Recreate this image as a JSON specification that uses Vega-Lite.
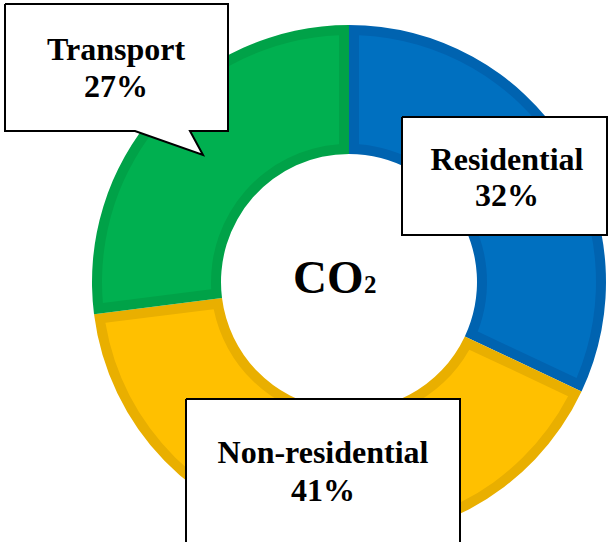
{
  "$schema": "https://vega.github.io/schema/vega-lite/v6.json",
  "width": 609,
  "height": 542,
  "autosize": {"type": "none"},
  "padding": 0,
  "background": "white",
  "config": {"view": {"stroke": null}},
  "datasets": {
    "shares": [
      {"cat": "Residential", "value": 32, "ord": 1, "pct": "32%", "lx": 158, "ly1": 112, "ly2": 76},
      {"cat": "Non-residential", "value": 41, "ord": 2, "pct": "41%", "lx": -26, "ly1": -181, "ly2": -219},
      {"cat": "Transport", "value": 27, "ord": 3, "pct": "27%", "lx": -233, "ly1": 222, "ly2": 185}
    ],
    "boxes": [
      {"box": "Transport", "i": 1, "x": -344, "y": 278},
      {"box": "Transport", "i": 2, "x": -121, "y": 278},
      {"box": "Transport", "i": 3, "x": -121, "y": 151},
      {"box": "Transport", "i": 4, "x": -159, "y": 151},
      {"box": "Transport", "i": 5, "x": -146, "y": 127},
      {"box": "Transport", "i": 6, "x": -214, "y": 151},
      {"box": "Transport", "i": 7, "x": -344, "y": 151},
      {"box": "Transport", "i": 8, "x": -344, "y": 278},
      {"box": "Residential", "i": 1, "x": 53, "y": 165},
      {"box": "Residential", "i": 2, "x": 258, "y": 165},
      {"box": "Residential", "i": 3, "x": 258, "y": 47},
      {"box": "Residential", "i": 4, "x": 53, "y": 47},
      {"box": "Residential", "i": 5, "x": 53, "y": 165},
      {"box": "Non-residential", "i": 1, "x": -163, "y": -117},
      {"box": "Non-residential", "i": 2, "x": 111, "y": -117},
      {"box": "Non-residential", "i": 3, "x": 111, "y": -265},
      {"box": "Non-residential", "i": 4, "x": -163, "y": -265},
      {"box": "Non-residential", "i": 5, "x": -163, "y": -117}
    ],
    "center": [
      {"t": "CO", "x": -56, "y": -11, "size": "big"},
      {"t": "2", "x": 15, "y": -11, "size": "small"}
    ]
  },
  "layer": [
    {
      "data": {"name": "shares"},
      "mark": {"type": "arc", "innerRadius": 128, "outerRadius": 257},
      "encoding": {
        "theta": {"field": "value", "type": "quantitative", "stack": true},
        "order": {"field": "ord", "type": "quantitative"},
        "color": {"field": "cat", "type": "nominal", "legend": null,
          "scale": {"domain": ["Residential", "Non-residential", "Transport"], "range": ["#0063B0", "#E9AF00", "#00A248"]}},
        "x": {"datum": 0, "type": "quantitative", "axis": null, "scale": {"domain": [-349, 260], "nice": false, "zero": false}},
        "y": {"datum": 0, "type": "quantitative", "axis": null, "scale": {"domain": [-260, 282], "nice": false, "zero": false}}
      }
    },
    {
      "data": {"name": "shares"},
      "mark": {"type": "arc", "innerRadius": 138, "outerRadius": 247, "padAngle": 0.0707},
      "encoding": {
        "theta": {"field": "value", "type": "quantitative", "stack": true},
        "order": {"field": "ord", "type": "quantitative"},
        "fill": {"field": "cat", "type": "nominal", "legend": null,
          "scale": {"domain": ["Residential", "Non-residential", "Transport"], "range": ["#0070C0", "#FFC000", "#00B050"]}},
        "x": {"datum": 0, "type": "quantitative"},
        "y": {"datum": 0, "type": "quantitative"}
      }
    },
    {
      "data": {"name": "boxes"},
      "mark": {"type": "line", "fill": "white", "stroke": "black", "strokeWidth": 2, "strokeJoin": "miter"},
      "encoding": {
        "x": {"field": "x", "type": "quantitative"},
        "y": {"field": "y", "type": "quantitative"},
        "detail": {"field": "box"},
        "order": {"field": "i", "type": "quantitative"}
      }
    },
    {
      "data": {"name": "shares"},
      "mark": {"type": "text", "font": "Liberation Serif", "fontWeight": "bold", "fontSize": 32, "baseline": "alphabetic", "align": "center", "color": "black"},
      "encoding": {
        "x": {"field": "lx", "type": "quantitative"},
        "y": {"field": "ly1", "type": "quantitative"},
        "text": {"field": "cat"}
      }
    },
    {
      "data": {"name": "shares"},
      "mark": {"type": "text", "font": "Liberation Serif", "fontWeight": "bold", "fontSize": 32, "baseline": "alphabetic", "align": "center", "color": "black"},
      "encoding": {
        "x": {"field": "lx", "type": "quantitative"},
        "y": {"field": "ly2", "type": "quantitative"},
        "text": {"field": "pct"}
      }
    },
    {
      "data": {"name": "center"},
      "mark": {"type": "text", "font": "Liberation Serif", "fontWeight": "bold", "baseline": "alphabetic", "align": "left", "color": "black"},
      "encoding": {
        "x": {"field": "x", "type": "quantitative"},
        "y": {"field": "y", "type": "quantitative"},
        "text": {"field": "t"},
        "size": {"field": "size", "type": "nominal", "legend": null, "scale": {"domain": ["big", "small"], "range": [47, 25]}}
      }
    }
  ]
}
